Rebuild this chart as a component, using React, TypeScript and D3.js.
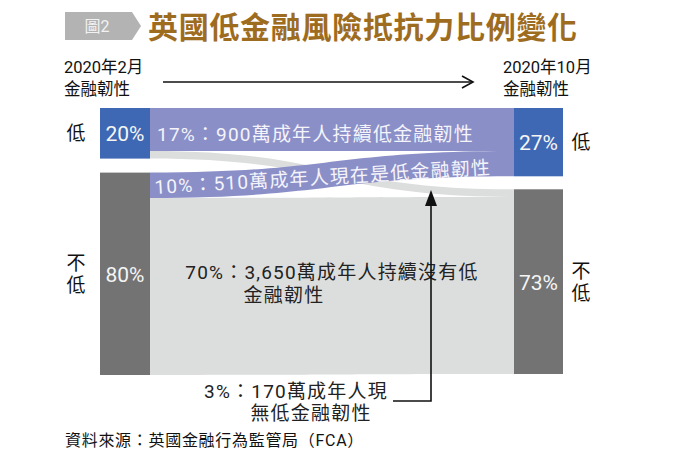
import React from "react";
import * as d3 from "d3";

const leftNodes = ["低", "不低"];
const leftValues = [20, 80];
const rightNodes = ["低", "不低"];
const rightValues = [27, 73];
const flowSource = [0, 0, 1, 1];
const flowTarget = [0, 1, 0, 1];
const flowValues = [17, 3, 10, 70];
const flowLabels = [
  ["17%：900萬成年人持續低金融韌性"],
  ["3%：170萬成年人現", "無低金融韌性"],
  ["10%：510萬成年人現在是低金融韌性"],
  ["70%：3,650萬成年人持續沒有低", "金融韌性"],
];
const title = "英國低金融風險抵抗力比例變化";
const tag = "圖2";
const startLabel = ["2020年2月", "金融韌性"];
const endLabel = ["2020年10月", "金融韌性"];
const source = "資料來源：英國金融行為監管局（FCA）";

const FONT = "Roboto, 'Noto Sans CJK TC', sans-serif";
const BLUE = "#3e68b3";
const DARK = "#737373";
const PURPLE = "#8b8fc8";
const LIGHT = "#dcdddd";

export default function App() {
  const top = 108;
  const h = d3.scaleLinear().domain([0, 100]).range([0, 253]);
  const xL0 = 100, xL1 = 150, xR0 = 514, xR1 = 563;
  const gapL = 14, gapR = 13;

  const stack = (vals: number[], gap: number) => {
    let y = top;
    return vals.map((v) => {
      const n = { y0: y, y1: y + h(v) };
      y = n.y1 + gap;
      return n;
    });
  };
  const L = stack(leftValues, gapL);
  const R = stack(rightValues, gapR);

  const srcOff = L.map((n) => n.y0);
  const tgtOff = R.map((n) => n.y0);
  const srcPos: { y0: number; y1: number }[] = [];
  flowValues.forEach((v, i) => {
    const s = flowSource[i];
    srcPos[i] = { y0: srcOff[s], y1: srcOff[s] + h(v) };
    srcOff[s] += h(v);
  });
  const tgtPos: { y0: number; y1: number }[] = [];
  const order = d3.range(flowValues.length).sort((a, b) => flowSource[a] - flowSource[b]);
  order.forEach((i) => {
    const t = flowTarget[i];
    tgtPos[i] = { y0: tgtOff[t], y1: tgtOff[t] + h(flowValues[i]) };
    tgtOff[t] += h(flowValues[i]);
  });

  const xm = (xL1 + xR0) / 2;
  const band = (i: number) => {
    const s = srcPos[i], t = tgtPos[i];
    const p = d3.path();
    p.moveTo(xL1, s.y0);
    p.bezierCurveTo(xm, s.y0, xm, t.y0, xR0, t.y0);
    p.lineTo(xR0, t.y1);
    p.bezierCurveTo(xm, t.y1, xm, s.y1, xL1, s.y1);
    p.closePath();
    return p.toString();
  };
  const flowColor = (i: number) => (flowTarget[i] === 0 ? PURPLE : LIGHT);
  const drawOrder = [3, 1, 0, 2];

  const cy = (n: { y0: number; y1: number }) => (n.y0 + n.y1) / 2;

  return (
    <svg width={695} height={463} style={{ position: "absolute", left: 0, top: 0 }} fontFamily={FONT}>
      <rect width={695} height={463} fill="#fff" />
      <polygon points="65,12 132,12 141,26 132,40 65,40" fill="#b3b3b3" />
      <text x={97} y={32} fontSize={16} fill="#f2f2f2" textAnchor="middle">{tag}</text>
      <text x={148} y={38} fontSize={30} fontWeight={700} fill="#9e6c1e" fontFamily="'Noto Sans CJK TC', serif" letterSpacing={0.7}>{title}</text>

      {startLabel.map((t, i) => (
        <text key={"s" + i} x={64} y={73 + i * 22} fontSize={16.5} fill="#111">{t}</text>
      ))}
      {endLabel.map((t, i) => (
        <text key={"e" + i} x={503} y={73 + i * 22} fontSize={16.5} fill="#111">{t}</text>
      ))}
      <line x1={163} y1={82} x2={473} y2={82} stroke="#111" strokeWidth={1.6} />
      <polyline points="462,76 473,82 462,88" fill="none" stroke="#111" strokeWidth={1.6} />

      {drawOrder.map((i) => (
        <path key={"f" + i} d={band(i)} fill={flowColor(i)} />
      ))}

      {L.map((n, i) => (
        <rect key={"l" + i} x={xL0} y={n.y0} width={xL1 - xL0} height={n.y1 - n.y0} fill={i === 0 ? BLUE : DARK} />
      ))}
      {R.map((n, i) => (
        <rect key={"r" + i} x={xR0} y={n.y0} width={xR1 - xR0} height={n.y1 - n.y0} fill={i === 0 ? BLUE : DARK} />
      ))}
      {L.map((n, i) => (
        <text key={"lt" + i} x={(xL0 + xL1) / 2} y={cy(n) + 8} fontSize={21} fill="#f5f5f5" textAnchor="middle">{leftValues[i]}%</text>
      ))}
      {R.map((n, i) => (
        <text key={"rt" + i} x={(xR0 + xR1) / 2} y={cy(n) + 8} fontSize={21} fill="#f5f5f5" textAnchor="middle">{rightValues[i]}%</text>
      ))}

      {L.map((n, i) =>
        leftNodes[i].split("").map((c, j, arr) => (
          <text key={"ln" + i + j} x={76} y={cy(n) + 7 + (j - (arr.length - 1) / 2) * 22} fontSize={19} fill="#111" textAnchor="middle">{c}</text>
        ))
      )}
      {R.map((n, i) =>
        rightNodes[i].split("").map((c, j, arr) => (
          <text key={"rn" + i + j} x={581} y={cy(n) + 7 + (j - (arr.length - 1) / 2) * 22} fontSize={19} fill="#111" textAnchor="middle">{c}</text>
        ))
      )}

      <text x={157} y={141} fontSize={19} fill="#f4f4fa" letterSpacing={1.2}>{flowLabels[0][0]}</text>
      <text x={155} y={194} fontSize={19} fill="#f4f4fa" letterSpacing={1.2} transform="rotate(-3.4 155 194)">{flowLabels[2][0]}</text>
      <text x={332} y={279} fontSize={19} fill="#222" letterSpacing={1.2} textAnchor="middle">{flowLabels[3][0]}</text>
      <text x={284} y={302} fontSize={19} fill="#222" letterSpacing={1.2} textAnchor="middle">{flowLabels[3][1]}</text>
      <text x={296} y={398} fontSize={19} fill="#222" letterSpacing={1.2} textAnchor="middle">{flowLabels[1][0]}</text>
      <text x={311} y={420} fontSize={19} fill="#222" letterSpacing={1.2} textAnchor="middle">{flowLabels[1][1]}</text>

      <polyline points={`393,401 431,401 431,204`} fill="none" stroke="#111" strokeWidth={1.6} />
      <polygon points="431,190 425,206 437,206" fill="#111" />

      <text x={65} y={446} fontSize={16} fill="#111" letterSpacing={0.7}>{source}</text>
    </svg>
  );
}
